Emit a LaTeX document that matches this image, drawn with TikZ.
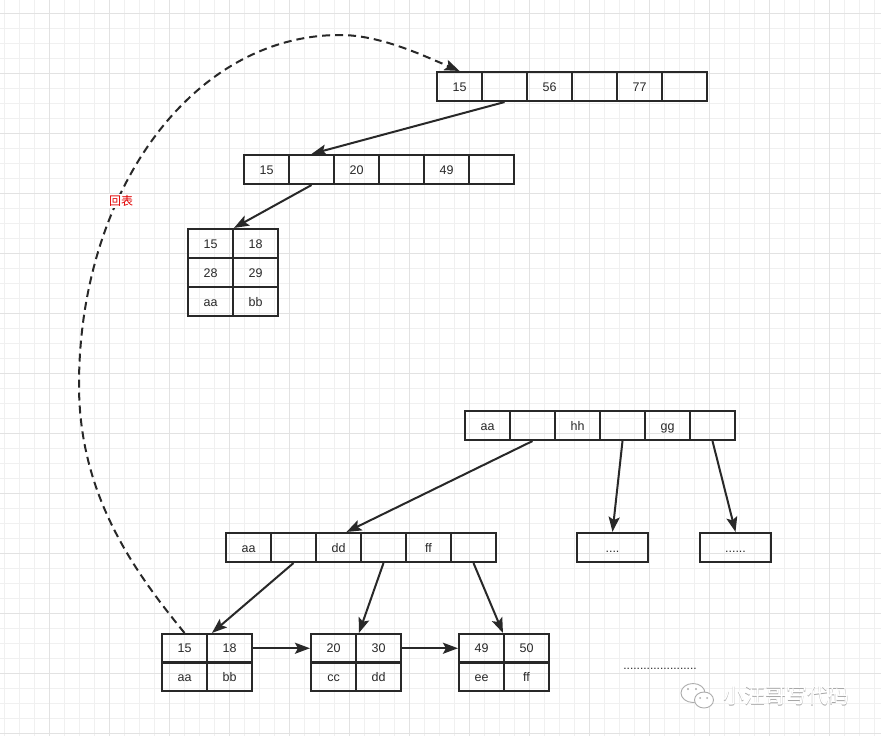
\documentclass[tikz,border=0pt]{standalone}
\usepackage{fontspec}
\setmainfont{Liberation Sans}
\newfontfamily\cjk{Noto Sans CJK SC}
\usetikzlibrary{arrows.meta,calc}
\definecolor{ink}{RGB}{40,40,40}
\definecolor{gridminor}{RGB}{240,240,240}
\definecolor{gridmajor}{RGB}{226,226,226}
\definecolor{lblred}{RGB}{225,0,0}
\begin{document}
\begin{tikzpicture}[x=1pt,y=-1pt,
  cell/.style={draw=ink,line width=2.1pt,minimum width=45pt,minimum height=29pt,
    inner sep=0pt,text=ink,font=\fontsize{12.5}{14}\selectfont,
    text height=9pt,text depth=0pt},
  leafcell/.style={cell,minimum height=28.5pt},
  wide/.style={cell,minimum width=71pt},
  tip/.style={-{Stealth[length=15pt,width=11pt,inset=3pt]}},
  conn/.style={draw=ink,line width=2pt,tip},
  backlink/.style={draw=ink,line width=2pt,dash pattern=on 8pt off 5pt,tip},
  minor/.style={draw=gridminor,line width=1pt},
  major/.style={draw=gridmajor,line width=1pt}]
\useasboundingbox (0,0) rectangle (881,736);
\fill[white] (0,0) rectangle (881,736);
% grid
\foreach \gx in {4,19,...,879} \draw[minor] (\gx,0) -- (\gx,736);
\foreach \gy in {-2,13,...,735} \draw[minor] (0,\gy) -- (881,\gy);
\foreach \gx in {49,109,...,879} \draw[major] (\gx,0) -- (\gx,736);
\foreach \gy in {13,73,...,735} \draw[major] (0,\gy) -- (881,\gy);

% top node of primary index
\foreach \lab [count=\i from 0] in {15,{},56,{},77,{}}
  \node[cell] (t\i) at (459.5+45*\i,86.5) {\lab};
% second level
\foreach \lab [count=\i from 0] in {15,{},20,{},49,{}}
  \node[cell] (s\i) at (266.5+45*\i,169.5) {\lab};
% leaf of primary index
\foreach \a/\b [count=\r from 0] in {15/18,28/29,aa/bb}{
  \node[cell] (la\r0) at (210.5,243.5+29*\r) {\a};
  \node[cell] (la\r1) at (255.5,243.5+29*\r) {\b};
}

% secondary index root
\foreach \lab [count=\i from 0] in {aa,{},hh,{},gg,{}}
  \node[cell] (r\i) at (487.5+45*\i,425.5) {\lab};
% middle level
\foreach \lab [count=\i from 0] in {aa,{},dd,{},ff,{}}
  \node[cell] (m\i) at (248.5+45*\i,547.5) {\lab};
\node[wide] (dotsA) at (612.5,547.5) {....};
\node[wide] (dotsB) at (735.5,547.5) {......};
% bottom leaves
\foreach \nm/\px/\a/\b/\c/\d in {ba/162/15/18/aa/bb,bb/311/20/30/cc/dd,bc/459/49/50/ee/ff}{
  \node[leafcell] (\nm00) at (\px+22.5,648.25) {\a};
  \node[leafcell] (\nm01) at (\px+67.5,648.25) {\b};
  \node[leafcell] (\nm10) at (\px+22.5,676.75) {\c};
  \node[leafcell] (\nm11) at (\px+67.5,676.75) {\d};
}
\node[font=\fontsize{12}{14}\selectfont,text=ink,inner sep=0pt] (trail) at (660,669) {......................};

% connectors
\draw[conn] (t1.south) -- (s1.north);
\draw[conn] (s1.south) -- ([xshift=2pt]la01.north west);
\draw[conn] (r1.south) -- ([xshift=8pt]m2.north);
\draw[conn] (r3.south) -- (dotsA.north);
\draw[conn] (r5.south) -- (dotsB.north);
\draw[conn] (m1.south) -- ([xshift=6pt]ba01.north west);
\draw[conn] (m3.south) -- ([xshift=4pt]bb01.north west);
\draw[conn] (m5.south) -- (bc01.north west);
\draw[conn] (ba01.east) -- (bb00.west);
\draw[conn] (bb01.east) -- (bc00.west);

% back-to-table dashed link
\coordinate (bendL) at (79,385);
\coordinate (bendT) at (340,35);
\draw[backlink] (ba00.north) .. controls (134,571) and (79,495) .. (bendL)
  .. controls (79,192) and (192,35) .. (bendT)
  .. controls (380,35) and (422,55) .. (t0.north);
\node[fill=white,inner sep=1pt,text=lblred,font=\cjk\fontsize{12}{14}\selectfont] (huibiao) at (121,201) {回表};

% watermark
\begin{scope}[draw=gray!65,line width=0.9pt]
  \draw[fill=white] (693,693) ellipse [x radius=12,y radius=9.5];
  \draw[fill=white] (704,700) ellipse [x radius=9.5,y radius=8];
  \fill[gray!65] (688,689) circle (1.1) (696,689) circle (1.1) (700,698) circle (1) (707,698) circle (1);
\end{scope}
\node[text=gray!70,font=\cjk\fontsize{21}{24}\selectfont,inner sep=0pt] (wmshadow) at (786.8,696.8) {小汪哥写代码};
\node[text=white,font=\cjk\fontsize{21}{24}\selectfont,inner sep=0pt] (wm) at (786,696) {小汪哥写代码};
\end{tikzpicture}
\end{document}
